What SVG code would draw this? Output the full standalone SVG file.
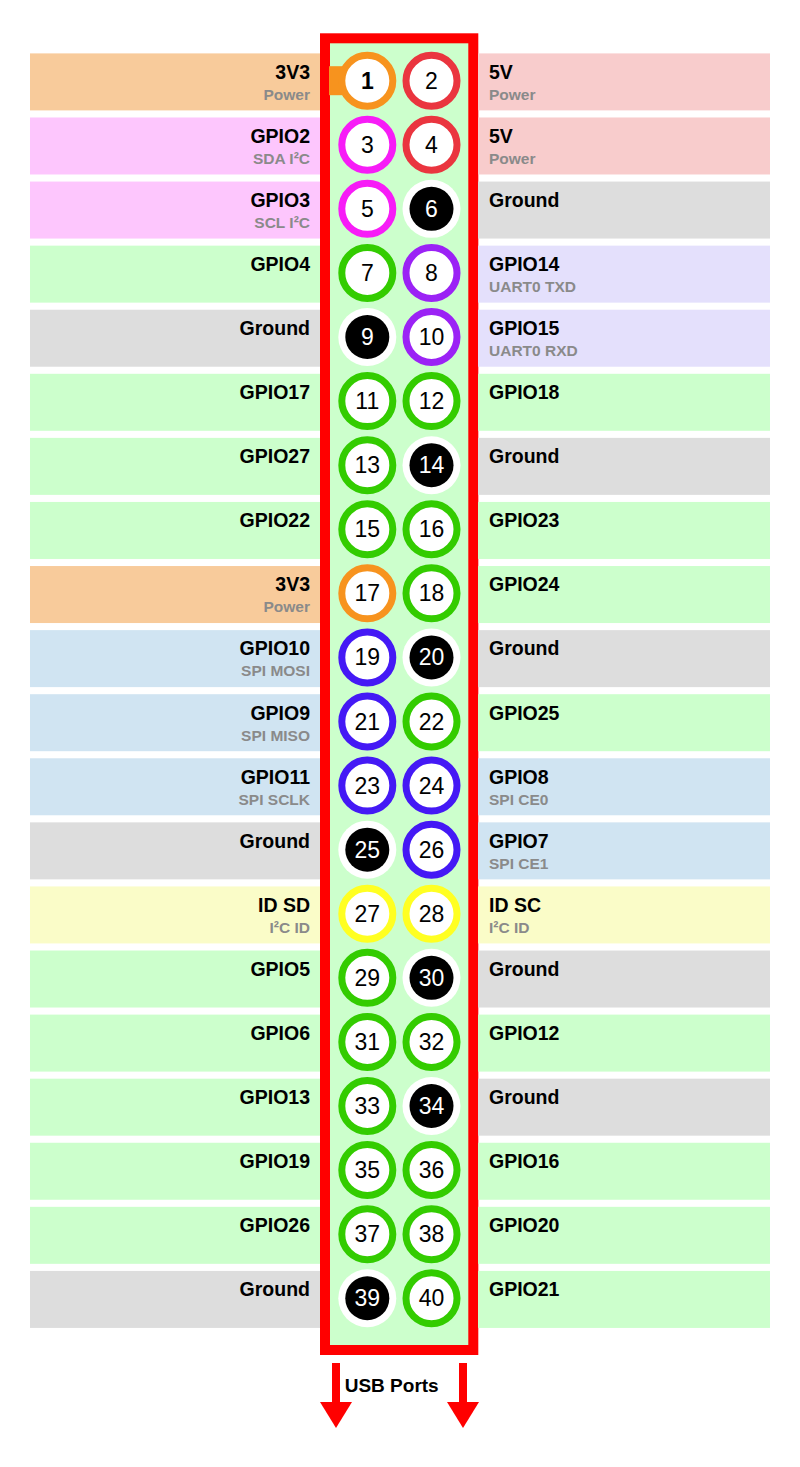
<svg xmlns="http://www.w3.org/2000/svg" width="800" height="1467" viewBox="0 0 800 1467">
<defs>
<style>
.bar{stroke:none}
.pw3{fill:#f8cb9b}.pw5{fill:#f8cccc}.i2c{fill:#fdc6fd}.gpio{fill:#ccffcc}.gnd{fill:#dddddd}.uart{fill:#e4e0fc}.spi{fill:#d0e4f2}.id{fill:#fafcc8}
.ring{fill:#ffffff;stroke-width:7}
.r-pw3{stroke:#f7931e}.r-pw5{stroke:#ea353f}.r-i2c{stroke:#f71cf7}.r-gpio{stroke:#33cc00}.r-uart{stroke:#9b22f5}.r-spi{stroke:#4419f5}.r-id{stroke:#ffff22}
.gw{fill:#ffffff}.gb{fill:#000000}
.num{font-family:"Liberation Sans",Arial,sans-serif;font-size:23px;text-anchor:middle;fill:#000}
.numw{fill:#ffffff}
.lab{font-family:"Liberation Sans",Arial,sans-serif;font-size:19.5px;font-weight:bold;fill:#000}
.sub{font-family:"Liberation Sans",Arial,sans-serif;font-size:15.5px;font-weight:bold;fill:#8a8a8a}
.l{text-anchor:end}
.usb{font-family:"Liberation Sans",Arial,sans-serif;font-size:19px;font-weight:bold;text-anchor:middle;fill:#000}
</style>
<marker id="ah" viewBox="0 0 26 32" refX="0" refY="16" markerWidth="26" markerHeight="32" markerUnits="userSpaceOnUse" orient="auto">
<path d="M0,0 L26,16 L0,32 z" fill="#ff0000"/>
</marker>
</defs>
<rect width="800" height="1467" fill="#ffffff"/>
<g id="header">
<rect x="325" y="38.3" width="148.3" height="1311.7" fill="#ccffcc" stroke="#ff0000" stroke-width="10"/>
</g>

<g id="row1" transform="translate(0,80.7)">
<rect class="bar pw3" x="30" y="-27.3" width="290" height="57"/>
<rect class="bar pw5" x="478" y="-27.3" width="292" height="57"/>
<text class="lab l" x="310" y="-2">3V3</text><text class="sub l" x="310" y="19">Power</text>
<text class="lab" x="489" y="-2">5V</text><text class="sub" x="489" y="19">Power</text>
<g id="pin1"><rect x="329" y="-14.5" width="30" height="29" fill="#f7931e"/><circle class="ring r-pw3" cx="367.3" cy="0" r="25.5"/><text class="num" x="367.3" y="8" font-weight="bold">1</text></g>
<g id="pin2"><circle class="ring r-pw5" cx="431.5" cy="0" r="25.5"/><text class="num" x="431.5" y="8">2</text></g>
</g>

<g id="row2" transform="translate(0,144.78)">
<rect class="bar i2c" x="30" y="-27.3" width="290" height="57"/>
<rect class="bar pw5" x="478" y="-27.3" width="292" height="57"/>
<text class="lab l" x="310" y="-2">GPIO2</text><text class="sub l" x="310" y="19">SDA I²C</text>
<text class="lab" x="489" y="-2">5V</text><text class="sub" x="489" y="19">Power</text>
<g id="pin3"><circle class="ring r-i2c" cx="367.3" cy="0" r="25.5"/><text class="num" x="367.3" y="8">3</text></g>
<g id="pin4"><circle class="ring r-pw5" cx="431.5" cy="0" r="25.5"/><text class="num" x="431.5" y="8">4</text></g>
</g>

<g id="row3" transform="translate(0,208.86)">
<rect class="bar i2c" x="30" y="-27.3" width="290" height="57"/>
<rect class="bar gnd" x="478" y="-27.3" width="292" height="57"/>
<text class="lab l" x="310" y="-2">GPIO3</text><text class="sub l" x="310" y="19">SCL I²C</text>
<text class="lab" x="489" y="-2">Ground</text>
<g id="pin5"><circle class="ring r-i2c" cx="367.3" cy="0" r="25.5"/><text class="num" x="367.3" y="8">5</text></g>
<g id="pin6"><circle class="gw" cx="431.5" cy="0" r="29"/><circle class="gb" cx="431.5" cy="0" r="22"/><text class="num numw" x="431.5" y="8">6</text></g>
</g>

<g id="row4" transform="translate(0,272.94)">
<rect class="bar gpio" x="30" y="-27.3" width="290" height="57"/>
<rect class="bar uart" x="478" y="-27.3" width="292" height="57"/>
<text class="lab l" x="310" y="-2">GPIO4</text>
<text class="lab" x="489" y="-2">GPIO14</text><text class="sub" x="489" y="19">UART0 TXD</text>
<g id="pin7"><circle class="ring r-gpio" cx="367.3" cy="0" r="25.5"/><text class="num" x="367.3" y="8">7</text></g>
<g id="pin8"><circle class="ring r-uart" cx="431.5" cy="0" r="25.5"/><text class="num" x="431.5" y="8">8</text></g>
</g>

<g id="row5" transform="translate(0,337.02)">
<rect class="bar gnd" x="30" y="-27.3" width="290" height="57"/>
<rect class="bar uart" x="478" y="-27.3" width="292" height="57"/>
<text class="lab l" x="310" y="-2">Ground</text>
<text class="lab" x="489" y="-2">GPIO15</text><text class="sub" x="489" y="19">UART0 RXD</text>
<g id="pin9"><circle class="gw" cx="367.3" cy="0" r="29"/><circle class="gb" cx="367.3" cy="0" r="22"/><text class="num numw" x="367.3" y="8">9</text></g>
<g id="pin10"><circle class="ring r-uart" cx="431.5" cy="0" r="25.5"/><text class="num" x="431.5" y="8">10</text></g>
</g>

<g id="row6" transform="translate(0,401.1)">
<rect class="bar gpio" x="30" y="-27.3" width="290" height="57"/>
<rect class="bar gpio" x="478" y="-27.3" width="292" height="57"/>
<text class="lab l" x="310" y="-2">GPIO17</text>
<text class="lab" x="489" y="-2">GPIO18</text>
<g id="pin11"><circle class="ring r-gpio" cx="367.3" cy="0" r="25.5"/><text class="num" x="367.3" y="8">11</text></g>
<g id="pin12"><circle class="ring r-gpio" cx="431.5" cy="0" r="25.5"/><text class="num" x="431.5" y="8">12</text></g>
</g>

<g id="row7" transform="translate(0,465.18)">
<rect class="bar gpio" x="30" y="-27.3" width="290" height="57"/>
<rect class="bar gnd" x="478" y="-27.3" width="292" height="57"/>
<text class="lab l" x="310" y="-2">GPIO27</text>
<text class="lab" x="489" y="-2">Ground</text>
<g id="pin13"><circle class="ring r-gpio" cx="367.3" cy="0" r="25.5"/><text class="num" x="367.3" y="8">13</text></g>
<g id="pin14"><circle class="gw" cx="431.5" cy="0" r="29"/><circle class="gb" cx="431.5" cy="0" r="22"/><text class="num numw" x="431.5" y="8">14</text></g>
</g>

<g id="row8" transform="translate(0,529.26)">
<rect class="bar gpio" x="30" y="-27.3" width="290" height="57"/>
<rect class="bar gpio" x="478" y="-27.3" width="292" height="57"/>
<text class="lab l" x="310" y="-2">GPIO22</text>
<text class="lab" x="489" y="-2">GPIO23</text>
<g id="pin15"><circle class="ring r-gpio" cx="367.3" cy="0" r="25.5"/><text class="num" x="367.3" y="8">15</text></g>
<g id="pin16"><circle class="ring r-gpio" cx="431.5" cy="0" r="25.5"/><text class="num" x="431.5" y="8">16</text></g>
</g>

<g id="row9" transform="translate(0,593.34)">
<rect class="bar pw3" x="30" y="-27.3" width="290" height="57"/>
<rect class="bar gpio" x="478" y="-27.3" width="292" height="57"/>
<text class="lab l" x="310" y="-2">3V3</text><text class="sub l" x="310" y="19">Power</text>
<text class="lab" x="489" y="-2">GPIO24</text>
<g id="pin17"><circle class="ring r-pw3" cx="367.3" cy="0" r="25.5"/><text class="num" x="367.3" y="8">17</text></g>
<g id="pin18"><circle class="ring r-gpio" cx="431.5" cy="0" r="25.5"/><text class="num" x="431.5" y="8">18</text></g>
</g>

<g id="row10" transform="translate(0,657.42)">
<rect class="bar spi" x="30" y="-27.3" width="290" height="57"/>
<rect class="bar gnd" x="478" y="-27.3" width="292" height="57"/>
<text class="lab l" x="310" y="-2">GPIO10</text><text class="sub l" x="310" y="19">SPI MOSI</text>
<text class="lab" x="489" y="-2">Ground</text>
<g id="pin19"><circle class="ring r-spi" cx="367.3" cy="0" r="25.5"/><text class="num" x="367.3" y="8">19</text></g>
<g id="pin20"><circle class="gw" cx="431.5" cy="0" r="29"/><circle class="gb" cx="431.5" cy="0" r="22"/><text class="num numw" x="431.5" y="8">20</text></g>
</g>

<g id="row11" transform="translate(0,721.5)">
<rect class="bar spi" x="30" y="-27.3" width="290" height="57"/>
<rect class="bar gpio" x="478" y="-27.3" width="292" height="57"/>
<text class="lab l" x="310" y="-2">GPIO9</text><text class="sub l" x="310" y="19">SPI MISO</text>
<text class="lab" x="489" y="-2">GPIO25</text>
<g id="pin21"><circle class="ring r-spi" cx="367.3" cy="0" r="25.5"/><text class="num" x="367.3" y="8">21</text></g>
<g id="pin22"><circle class="ring r-gpio" cx="431.5" cy="0" r="25.5"/><text class="num" x="431.5" y="8">22</text></g>
</g>

<g id="row12" transform="translate(0,785.58)">
<rect class="bar spi" x="30" y="-27.3" width="290" height="57"/>
<rect class="bar spi" x="478" y="-27.3" width="292" height="57"/>
<text class="lab l" x="310" y="-2">GPIO11</text><text class="sub l" x="310" y="19">SPI SCLK</text>
<text class="lab" x="489" y="-2">GPIO8</text><text class="sub" x="489" y="19">SPI CE0</text>
<g id="pin23"><circle class="ring r-spi" cx="367.3" cy="0" r="25.5"/><text class="num" x="367.3" y="8">23</text></g>
<g id="pin24"><circle class="ring r-spi" cx="431.5" cy="0" r="25.5"/><text class="num" x="431.5" y="8">24</text></g>
</g>

<g id="row13" transform="translate(0,849.66)">
<rect class="bar gnd" x="30" y="-27.3" width="290" height="57"/>
<rect class="bar spi" x="478" y="-27.3" width="292" height="57"/>
<text class="lab l" x="310" y="-2">Ground</text>
<text class="lab" x="489" y="-2">GPIO7</text><text class="sub" x="489" y="19">SPI CE1</text>
<g id="pin25"><circle class="gw" cx="367.3" cy="0" r="29"/><circle class="gb" cx="367.3" cy="0" r="22"/><text class="num numw" x="367.3" y="8">25</text></g>
<g id="pin26"><circle class="ring r-spi" cx="431.5" cy="0" r="25.5"/><text class="num" x="431.5" y="8">26</text></g>
</g>

<g id="row14" transform="translate(0,913.74)">
<rect class="bar id" x="30" y="-27.3" width="290" height="57"/>
<rect class="bar id" x="478" y="-27.3" width="292" height="57"/>
<text class="lab l" x="310" y="-2">ID SD</text><text class="sub l" x="310" y="19">I²C ID</text>
<text class="lab" x="489" y="-2">ID SC</text><text class="sub" x="489" y="19">I²C ID</text>
<g id="pin27"><circle class="ring r-id" cx="367.3" cy="0" r="25.5"/><text class="num" x="367.3" y="8">27</text></g>
<g id="pin28"><circle class="ring r-id" cx="431.5" cy="0" r="25.5"/><text class="num" x="431.5" y="8">28</text></g>
</g>

<g id="row15" transform="translate(0,977.82)">
<rect class="bar gpio" x="30" y="-27.3" width="290" height="57"/>
<rect class="bar gnd" x="478" y="-27.3" width="292" height="57"/>
<text class="lab l" x="310" y="-2">GPIO5</text>
<text class="lab" x="489" y="-2">Ground</text>
<g id="pin29"><circle class="ring r-gpio" cx="367.3" cy="0" r="25.5"/><text class="num" x="367.3" y="8">29</text></g>
<g id="pin30"><circle class="gw" cx="431.5" cy="0" r="29"/><circle class="gb" cx="431.5" cy="0" r="22"/><text class="num numw" x="431.5" y="8">30</text></g>
</g>

<g id="row16" transform="translate(0,1041.9)">
<rect class="bar gpio" x="30" y="-27.3" width="290" height="57"/>
<rect class="bar gpio" x="478" y="-27.3" width="292" height="57"/>
<text class="lab l" x="310" y="-2">GPIO6</text>
<text class="lab" x="489" y="-2">GPIO12</text>
<g id="pin31"><circle class="ring r-gpio" cx="367.3" cy="0" r="25.5"/><text class="num" x="367.3" y="8">31</text></g>
<g id="pin32"><circle class="ring r-gpio" cx="431.5" cy="0" r="25.5"/><text class="num" x="431.5" y="8">32</text></g>
</g>

<g id="row17" transform="translate(0,1105.98)">
<rect class="bar gpio" x="30" y="-27.3" width="290" height="57"/>
<rect class="bar gnd" x="478" y="-27.3" width="292" height="57"/>
<text class="lab l" x="310" y="-2">GPIO13</text>
<text class="lab" x="489" y="-2">Ground</text>
<g id="pin33"><circle class="ring r-gpio" cx="367.3" cy="0" r="25.5"/><text class="num" x="367.3" y="8">33</text></g>
<g id="pin34"><circle class="gw" cx="431.5" cy="0" r="29"/><circle class="gb" cx="431.5" cy="0" r="22"/><text class="num numw" x="431.5" y="8">34</text></g>
</g>

<g id="row18" transform="translate(0,1170.06)">
<rect class="bar gpio" x="30" y="-27.3" width="290" height="57"/>
<rect class="bar gpio" x="478" y="-27.3" width="292" height="57"/>
<text class="lab l" x="310" y="-2">GPIO19</text>
<text class="lab" x="489" y="-2">GPIO16</text>
<g id="pin35"><circle class="ring r-gpio" cx="367.3" cy="0" r="25.5"/><text class="num" x="367.3" y="8">35</text></g>
<g id="pin36"><circle class="ring r-gpio" cx="431.5" cy="0" r="25.5"/><text class="num" x="431.5" y="8">36</text></g>
</g>

<g id="row19" transform="translate(0,1234.14)">
<rect class="bar gpio" x="30" y="-27.3" width="290" height="57"/>
<rect class="bar gpio" x="478" y="-27.3" width="292" height="57"/>
<text class="lab l" x="310" y="-2">GPIO26</text>
<text class="lab" x="489" y="-2">GPIO20</text>
<g id="pin37"><circle class="ring r-gpio" cx="367.3" cy="0" r="25.5"/><text class="num" x="367.3" y="8">37</text></g>
<g id="pin38"><circle class="ring r-gpio" cx="431.5" cy="0" r="25.5"/><text class="num" x="431.5" y="8">38</text></g>
</g>

<g id="row20" transform="translate(0,1298.22)">
<rect class="bar gnd" x="30" y="-27.3" width="290" height="57"/>
<rect class="bar gpio" x="478" y="-27.3" width="292" height="57"/>
<text class="lab l" x="310" y="-2">Ground</text>
<text class="lab" x="489" y="-2">GPIO21</text>
<g id="pin39"><circle class="gw" cx="367.3" cy="0" r="29"/><circle class="gb" cx="367.3" cy="0" r="22"/><text class="num numw" x="367.3" y="8">39</text></g>
<g id="pin40"><circle class="ring r-gpio" cx="431.5" cy="0" r="25.5"/><text class="num" x="431.5" y="8">40</text></g>
</g>

<g id="connectors">
<line x1="336" y1="1363" x2="336" y2="1402" stroke="#ff0000" stroke-width="8" marker-end="url(#ah)"/>
<line x1="463" y1="1363" x2="463" y2="1402" stroke="#ff0000" stroke-width="8" marker-end="url(#ah)"/>
</g>
<g id="usb-label">
<text class="usb" x="391.7" y="1392">USB Ports</text>
</g>
</svg>
